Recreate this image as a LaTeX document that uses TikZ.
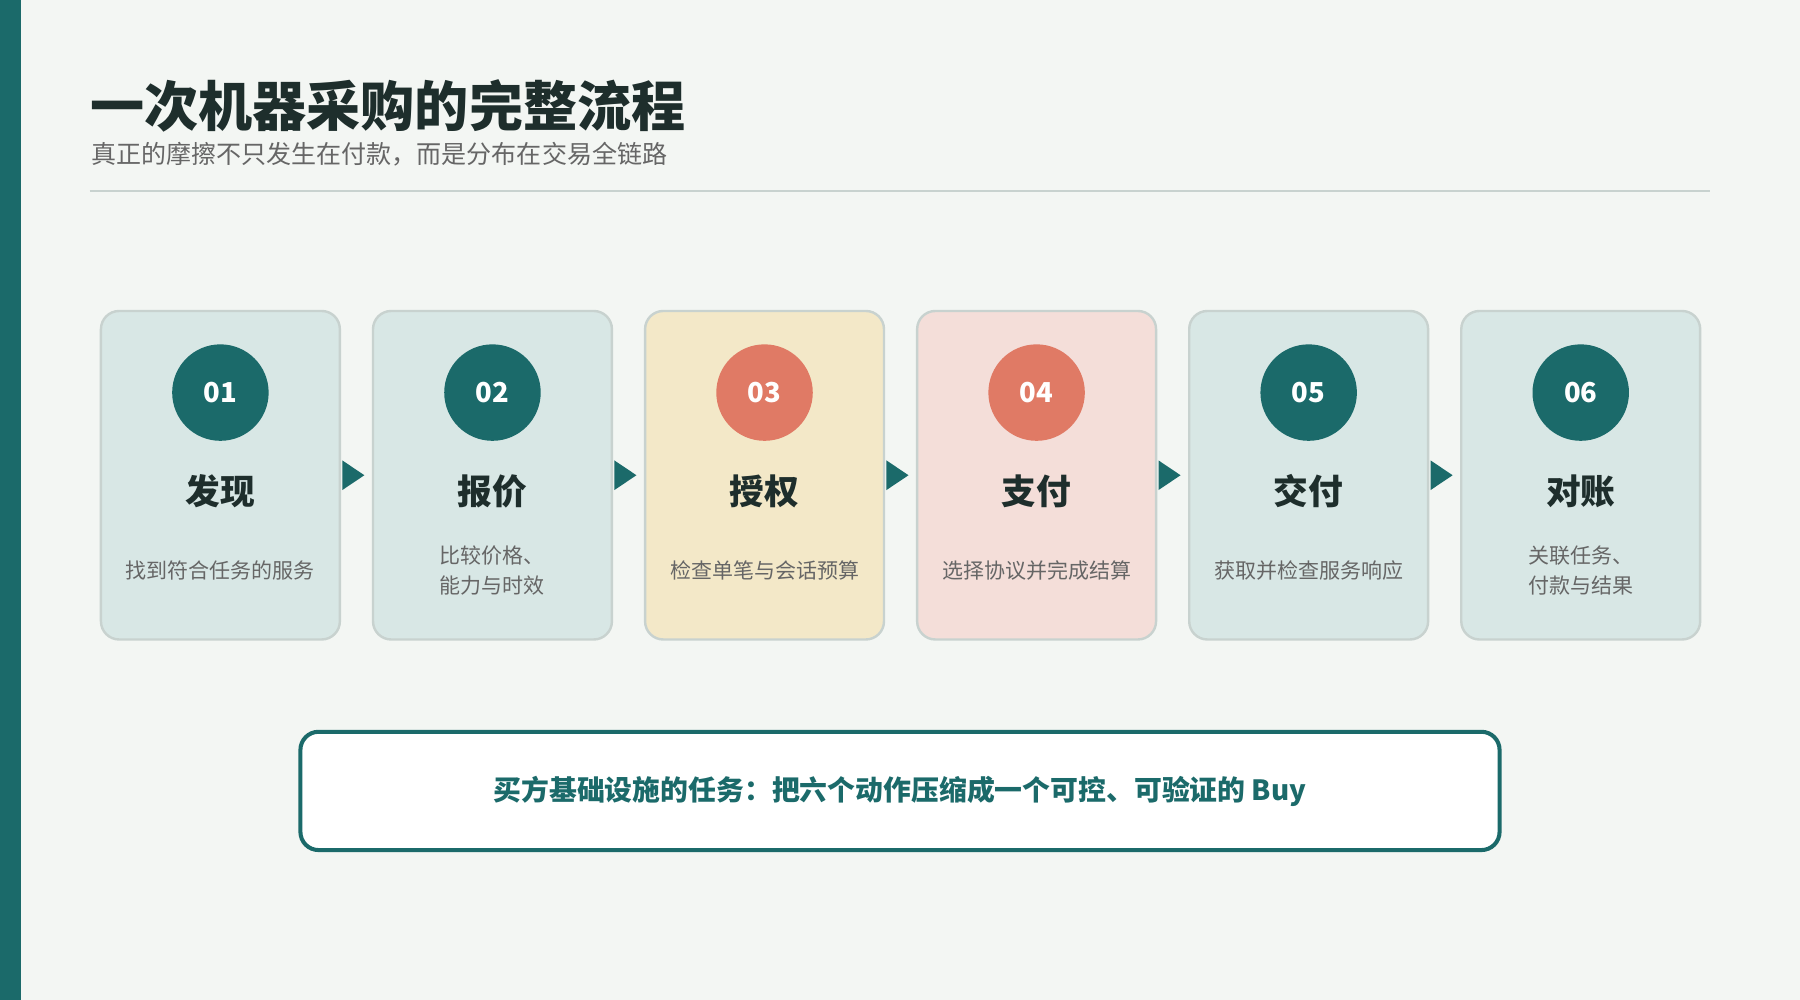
\documentclass[tikz,border=0pt]{standalone}
\usepackage{fontspec}
\setmainfont{Noto Sans CJK SC}
\usetikzlibrary{arrows.meta,positioning}

\definecolor{bgpage}{HTML}{F3F6F3}
\definecolor{teal}{HTML}{1B6A6A}
\definecolor{coral}{HTML}{E07A65}
\definecolor{tealcard}{HTML}{D8E7E5}
\definecolor{sandcard}{HTML}{F3E8C8}
\definecolor{pinkcard}{HTML}{F4DED9}
\definecolor{cardline}{HTML}{C8D2CF}
\definecolor{inkdark}{HTML}{1E2E2C}
\definecolor{inkgray}{HTML}{666666}

\tikzset{
  card/.style={draw=cardline, line width=0.6pt, rounded corners=4.5pt,
               minimum width=2.08cm, minimum height=2.86cm, inner sep=0pt},
  badge/.style={circle, minimum size=0.84cm, inner sep=0pt, text=white,
                font=\fontsize{6.8}{7}\selectfont\bfseries},
  stagename/.style={font=\fontsize{8.6}{9}\selectfont\bfseries, text=inkdark},
  desc/.style={font=\fontsize{5.2}{7.6}\selectfont, text=inkgray, align=center},
  flow/.style={-{Triangle[length=5.5pt,width=7pt]}, teal, line width=1.2pt,
               shorten <=1.2pt, shorten >=1.8pt}
}

\begin{document}
\begin{tikzpicture}[x=0.01cm,y=-0.01cm]
  \useasboundingbox (0,0) rectangle (1568,871);
  \fill[bgpage] (0,0) rectangle (1568,871);
  \fill[teal] (0,0) rectangle (18,871);

  % title block
  \node[anchor=west, inner sep=0pt, text=inkdark,
        font=\fontsize{13.4}{14}\selectfont\bfseries] (title) at (78,92) {一次机器采购的完整流程};
  \node[anchor=west, inner sep=0pt, text=inkgray,
        font=\fontsize{6.2}{7}\selectfont] (subtitle) at (79,134) {真正的摩擦不只发生在付款，而是分布在交易全链路};
  \draw[cardline, line width=0.5pt] (78,166) -- (1490,166);

  % cards
  \foreach \i/\fillc/\badgec/\name/\txt in {
      1/tealcard/teal/发现/找到符合任务的服务,
      2/tealcard/teal/报价/{比较价格、\\能力与时效},
      3/sandcard/coral/授权/检查单笔与会话预算,
      4/pinkcard/coral/支付/选择协议并完成结算,
      5/tealcard/teal/交付/获取并检查服务响应,
      6/tealcard/teal/对账/{关联任务、\\付款与结果}} {
    \node[card, fill=\fillc] (c\i) at ({192+237*(\i-1)},414) {};
    \node[badge, fill=\badgec] (b\i) at ({192+237*(\i-1)},342) {\raisebox{-0.8pt}{0\i}};
    \node[stagename] (s\i) at ({192+237*(\i-1)},428) {\name};
    \node[desc] (d\i) at ({192+237*(\i-1)},497) {\txt};
  }

  \foreach \i [count=\j from 2] in {1,...,5}
    \draw[flow] (c\i.east) -- (c\j.west);

  % summary
  \node[draw=teal, line width=1pt, fill=white, rounded corners=4.5pt,
        minimum width=10.44cm, minimum height=1.03cm, text=teal,
        font=\fontsize{6.9}{8}\selectfont\bfseries] (goal) at (784,689)
        {买方基础设施的任务：把六个动作压缩成一个可控、可验证的 Buy};
\end{tikzpicture}
\end{document}
